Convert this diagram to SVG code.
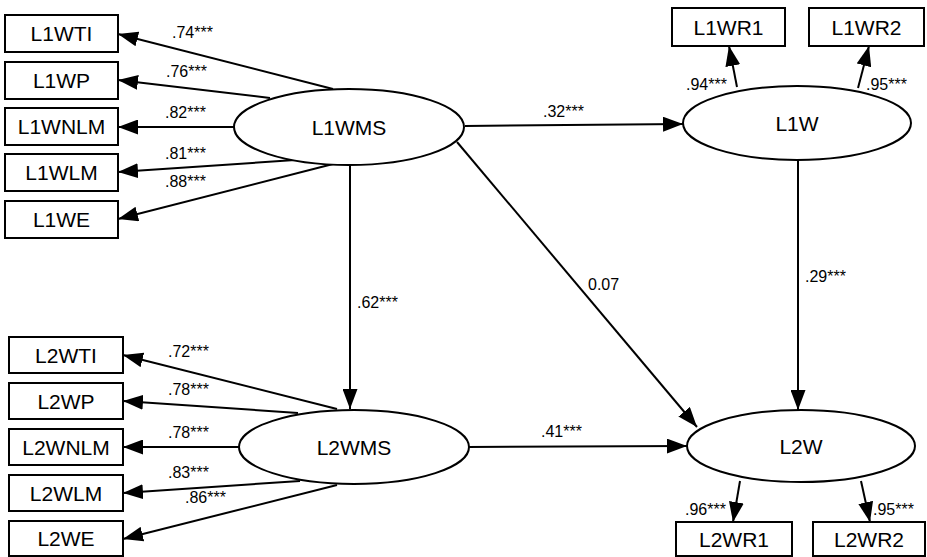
<svg xmlns="http://www.w3.org/2000/svg" width="927" height="557" viewBox="0 0 927 557">
<style>
.box{fill:#fff;stroke:#000;stroke-width:2}
.ell{fill:#fff;stroke:#000;stroke-width:2}
.nt{font-family:"Liberation Sans",Arial,sans-serif;font-size:21px;text-anchor:middle;fill:#000}
.lb{font-family:"Liberation Sans",Arial,sans-serif;font-size:16px;fill:#000}
.cn line{stroke:#000;stroke-width:2;marker-end:url(#ah)}
</style>
<defs>
<marker id="ah" markerUnits="userSpaceOnUse" markerWidth="20" markerHeight="15" refX="20" refY="7.5" orient="auto">
<path d="M0,0 L20,7.5 L0,15 z" fill="#000"/>
</marker>
</defs>
<g id="connectors" class="cn">
<line x1="333" y1="89" x2="118" y2="34"/>
<line x1="270" y1="98" x2="118" y2="80"/>
<line x1="235" y1="127" x2="118" y2="127"/>
<line x1="295" y1="160" x2="118" y2="172"/>
<line x1="333" y1="164" x2="118" y2="219"/>
<line x1="337" y1="409" x2="123" y2="355"/>
<line x1="298" y1="413" x2="123" y2="401"/>
<line x1="239" y1="447" x2="123" y2="447"/>
<line x1="300" y1="481" x2="123" y2="493"/>
<line x1="337" y1="485" x2="123" y2="539"/>
<line x1="350" y1="165" x2="350" y2="409"/>
<line x1="465" y1="126" x2="683" y2="124"/>
<line x1="457" y1="142" x2="697" y2="427"/>
<line x1="468" y1="447" x2="687" y2="446"/>
<line x1="798" y1="160" x2="798" y2="410"/>
<line x1="737" y1="87" x2="729" y2="46"/>
<line x1="858" y1="88" x2="869" y2="46"/>
<line x1="740" y1="481" x2="733" y2="522"/>
<line x1="861" y1="481" x2="870" y2="522"/>
</g>
<g id="labels">
<text class="lb" x="172" y="38">.74***</text>
<text class="lb" x="166" y="77">.76***</text>
<text class="lb" x="165" y="118">.82***</text>
<text class="lb" x="165" y="159">.81***</text>
<text class="lb" x="165" y="187">.88***</text>
<text class="lb" x="168" y="357">.72***</text>
<text class="lb" x="168" y="395">.78***</text>
<text class="lb" x="168" y="438">.78***</text>
<text class="lb" x="168" y="478">.83***</text>
<text class="lb" x="185" y="503">.86***</text>
<text class="lb" x="357" y="308">.62***</text>
<text class="lb" x="543" y="117">.32***</text>
<text class="lb" x="588" y="290">0.07</text>
<text class="lb" x="541" y="437">.41***</text>
<text class="lb" x="805" y="282">.29***</text>
<text class="lb" x="686" y="90">.94***</text>
<text class="lb" x="866" y="90">.95***</text>
<text class="lb" x="685" y="515">.96***</text>
<text class="lb" x="873" y="515">.95***</text>
</g>
<g id="L1WTI"><rect class="box" x="5" y="15" width="113" height="37"/><text class="nt" x="61.5" y="41">L1WTI</text></g>
<g id="L1WP"><rect class="box" x="5" y="62" width="113" height="37"/><text class="nt" x="61.5" y="88">L1WP</text></g>
<g id="L1WNLM"><rect class="box" x="5" y="108" width="113" height="37"/><text class="nt" x="61.5" y="134">L1WNLM</text></g>
<g id="L1WLM"><rect class="box" x="5" y="154" width="113" height="37"/><text class="nt" x="61.5" y="180">L1WLM</text></g>
<g id="L1WE"><rect class="box" x="5" y="201" width="113" height="37"/><text class="nt" x="61.5" y="227">L1WE</text></g>
<g id="L1WMS"><ellipse class="ell" cx="349" cy="127" rx="115" ry="38"/><text class="nt" x="349" y="134.5">L1WMS</text></g>
<g id="L2WTI"><rect class="box" x="9" y="337" width="114" height="36"/><text class="nt" x="66" y="362.5">L2WTI</text></g>
<g id="L2WP"><rect class="box" x="9" y="383" width="114" height="36"/><text class="nt" x="66" y="408.5">L2WP</text></g>
<g id="L2WNLM"><rect class="box" x="9" y="429" width="114" height="36"/><text class="nt" x="66" y="454.5">L2WNLM</text></g>
<g id="L2WLM"><rect class="box" x="9" y="475" width="114" height="36"/><text class="nt" x="66" y="500.5">L2WLM</text></g>
<g id="L2WE"><rect class="box" x="9" y="521" width="114" height="35"/><text class="nt" x="66" y="546">L2WE</text></g>
<g id="L2WMS"><ellipse class="ell" cx="354" cy="447" rx="115" ry="37"/><text class="nt" x="354" y="454.5">L2WMS</text></g>
<g id="L1W"><ellipse class="ell" cx="797" cy="123" rx="114" ry="37"/><text class="nt" x="797" y="130.5">L1W</text></g>
<g id="L1WR1"><rect class="box" x="672" y="8" width="113" height="38"/><text class="nt" x="728.5" y="34.5">L1WR1</text></g>
<g id="L1WR2"><rect class="box" x="809" y="8" width="115" height="38"/><text class="nt" x="866.5" y="34.5">L1WR2</text></g>
<g id="L2W"><ellipse class="ell" cx="801" cy="446" rx="114" ry="36"/><text class="nt" x="801" y="453.5">L2W</text></g>
<g id="L2WR1"><rect class="box" x="676" y="522" width="116" height="34"/><text class="nt" x="734" y="546.5">L2WR1</text></g>
<g id="L2WR2"><rect class="box" x="813" y="522" width="112" height="34"/><text class="nt" x="869" y="546.5">L2WR2</text></g>
</svg>
